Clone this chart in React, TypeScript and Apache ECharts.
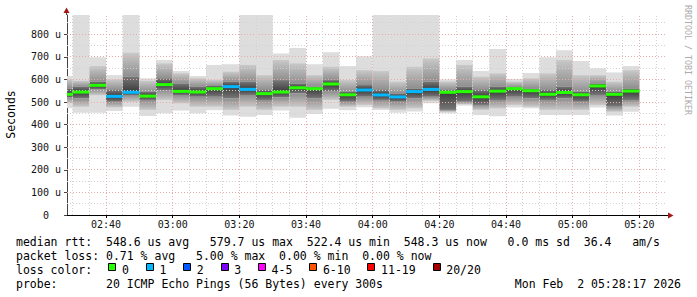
import React, { useEffect, useRef } from "react";
import * as echarts from "echarts";

// ---- data (times HH:MM, values in microseconds) ----
const axisStart = "02:28:17";
const axisEnd = "05:28:17";
const binEnds = [
  "02:30", "02:35", "02:40", "02:45", "02:50", "02:55", "03:00", "03:05", "03:10", "03:15",
  "03:20", "03:25", "03:30", "03:35", "03:40", "03:45", "03:50", "03:55", "04:00", "04:05",
  "04:10", "04:15", "04:20", "04:25", "04:30", "04:35", "04:40", "04:45", "04:50", "04:55",
  "05:00", "05:05", "05:10", "05:15", "05:20",
];
const pingMax = [615, 885, 698, 619, 885, 605, 686, 637, 615, 664, 667, 885, 885, 715, 739, 667, 720, 659, 703, 885, 885, 885, 885, 600, 686, 637, 734, 602, 628, 698, 729, 681, 649, 631, 659];
const smokeHigh = [600, 594, 659, 600, 718, 594, 671, 627, 605, 597, 634, 664, 619, 686, 671, 619, 656, 597, 641, 637, 590, 656, 693, 590, 664, 612, 627, 590, 605, 627, 686, 619, 619, 590, 641];
const coreHigh = [560, 568, 590, 553, 612, 546, 605, 582, 568, 571, 590, 590, 553, 597, 582, 568, 597, 546, 575, 553, 538, 560, 590, 553, 568, 553, 568, 565, 560, 553, 568, 546, 582, 546, 560];
const medianRtt = [534, 544, 574, 525, 543, 526, 577, 547, 544, 559, 568, 556, 537, 544, 563, 559, 579.7, 532, 553, 531, 522.4, 546, 556, 543, 546, 523, 548, 559, 550, 534, 542, 532, 571, 534, 548.3];
const coreLow = [520, 516, 556, 501, 531, 509, 553, 531, 523, 523, 516, 531, 509, 521, 538, 516, 546, 501, 523, 509, 501, 516, 523, 465, 501, 487, 509, 523, 516, 509, 516, 501, 531, 479, 509];
const smokeLow = [495, 479, 530, 476, 501, 465, 509, 494, 479, 479, 465, 479, 465, 479, 479, 465, 509, 479, 487, 472, 465, 472, 505, 457, 490, 465, 472, 487, 479, 465, 465, 465, 487, 457, 479];
const pingMin = [473, 453, 453, 460, 479, 438, 450, 462, 450, 464, 440, 435, 442, 462, 430, 447, 470, 464, 477, 465, 452, 458, 494, 450, 484, 442, 437, 476, 472, 442, 442, 442, 476, 440, 457];
const lostPings = [0, 0, 0, 1, 1, 0, 0, 0, 0, 0, 1, 1, 0, 0, 0, 0, 0, 0, 1, 1, 1, 1, 1, 0, 0, 0, 0, 0, 0, 0, 0, 0, 0, 0, 0];

const xTickLabels = ["02:40", "03:00", "03:20", "03:40", "04:00", "04:20", "04:40", "05:00", "05:20"];
const yTickValues = [0, 100, 200, 300, 400, 500, 600, 700, 800];
const yMax = 885;
const stepMinutes = 5;

const lossLabels = ["0", "1", "2", "3", "4-5", "6-10", "11-19", "20/20"];
const lossColors = ["#26ff00", "#00b8ff", "#0059ff", "#7e00ff", "#ff00ff", "#ff5500", "#ff0000", "#a10000"];

const legendLines = [
  "median rtt:  548.6 us avg   579.7 us max  522.4 us min  548.3 us now   0.0 ms sd  36.4   am/s",
  "packet loss: 0.71 % avg   5.00 % max  0.00 % min  0.00 % now",
  "loss color:",
  "probe:       20 ICMP Echo Pings (56 Bytes) every 300s",
];
const dateText = "Mon Feb  2 05:28:17 2026";
const watermark = "RRDTOOL / TOBI OETIKER";

const MONO = "'DejaVu Sans Mono', monospace";

const toMin = (s: string) => {
  const p = s.split(":").map(Number);
  return p[0] * 60 + p[1] + (p[2] || 0) / 60;
};
const fmtMin = (v: number) => {
  const r = Math.round(v);
  const h = Math.floor(r / 60);
  const m = r % 60;
  return String(h).padStart(2, "0") + ":" + String(m).padStart(2, "0");
};
const lossBucket = (n: number) =>
  n === 0 ? 0 : n === 1 ? 1 : n === 2 ? 2 : n === 3 ? 3 : n <= 5 ? 4 : n <= 10 ? 5 : n <= 19 ? 6 : 7;
const nb = (s: string) => s.replace(/ /g, "\u00a0");

const grad = (top: string, bottom: string) =>
  new echarts.graphic.LinearGradient(0, 0, 0, 1, [
    { offset: 0, color: top },
    { offset: 1, color: bottom },
  ]);

export default function App() {
  const ref = useRef<HTMLDivElement>(null);

  useEffect(() => {
    if (!ref.current) return;
    const chart = echarts.init(ref.current, null, { renderer: "svg" });
    const xMin = toMin(axisStart);
    const xMax = toMin(axisEnd);
    const xTickVals = xTickLabels.map(toMin);

    const smokeData = binEnds.map((t, i) => {
      const end = toMin(t);
      return [Math.max(end - stepMinutes, xMin), end, pingMax[i], smokeHigh[i], coreHigh[i], medianRtt[i], coreLow[i], smokeLow[i], pingMin[i]];
    });
    const medianData = binEnds.map((t, i) => {
      const end = toMin(t);
      return [Math.max(end - stepMinutes, xMin), end, medianRtt[i], lostPings[i]];
    });

    const vGrid: number[][] = [];
    for (let t = Math.ceil(xMin / stepMinutes) * stepMinutes; t < xMax; t += stepMinutes) vGrid.push([t, 0]);
    const hGrid: number[][] = [];
    for (let v = 50; v < yMax; v += 50) hGrid.push([xMin, v]);

    const snap = (p: number) => Math.round(p - 0.5) + 0.5;

    const graphics: any[] = [];
    graphics.push({ type: "line", shape: { x1: 66.5, y1: 15, x2: 66.5, y2: 11 }, style: { stroke: "#444", lineWidth: 1 } });
    graphics.push({ type: "polygon", shape: { points: [[63.5, 13], [69.5, 13], [66.5, 7.5]] }, style: { fill: "#a01818" } });
    graphics.push({ type: "line", shape: { x1: 667, y1: 215.5, x2: 669, y2: 215.5 }, style: { stroke: "#000", lineWidth: 1 } });
    graphics.push({ type: "polygon", shape: { points: [[668, 212.5], [668, 218.5], [673.5, 215.5]] }, style: { fill: "#a01818" } });
    graphics.push({
      type: "text", x: 11.3, y: 114.5, rotation: Math.PI / 2,
      style: { text: "Seconds", font: `11.5px ${MONO}`, fill: "#000", align: "center", verticalAlign: "middle", textAlign: "center", textVerticalAlign: "middle" },
    });
    graphics.push({
      type: "text", x: 687.5, y: 60, rotation: -Math.PI / 2,
      style: { text: nb(watermark), font: `8.3px ${MONO}`, fill: "#ababab", align: "center", verticalAlign: "middle", textAlign: "center", textVerticalAlign: "middle" },
    });
    const lineY = [241.5, 255.5, 269.5, 283.5];
    legendLines.forEach((s, i) => {
      graphics.push({
        type: "text", x: 16, y: lineY[i],
        style: { text: nb(s), font: `11.5px ${MONO}`, fill: "#000", align: "left", verticalAlign: "middle", textAlign: "left", textVerticalAlign: "middle" },
      });
    });
    graphics.push({
      type: "text", x: 681, y: lineY[3],
      style: { text: nb(dateText), font: `11.5px ${MONO}`, fill: "#000", align: "right", verticalAlign: "middle", textAlign: "right", textVerticalAlign: "middle" },
    });
    let sx = 108.3;
    const charW = 6.94;
    lossLabels.forEach((lab, i) => {
      graphics.push({
        type: "rect", shape: { x: Math.round(sx) + 0.5, y: 263.5, width: 7, height: 7 },
        style: { fill: lossColors[i], stroke: "#000", lineWidth: 1 },
      });
      graphics.push({
        type: "text", x: sx + 13.7, y: lineY[2],
        style: { text: lab, font: `11.5px ${MONO}`, fill: "#000", align: "left", verticalAlign: "middle", textAlign: "left", textVerticalAlign: "middle" },
      });
      sx += 13.7 + lab.length * charW + 16.76;
    });

    const option: any = {
      animation: false,
      backgroundColor: "#ffffff",
      textStyle: { fontFamily: MONO },
      grid: { left: 67, top: 15, width: 600, height: 200, containLabel: false },
      xAxis: {
        type: "value",
        min: xMin,
        max: xMax,
        axisLine: { show: true, onZero: false, lineStyle: { color: "#000", width: 1 } },
        axisTick: { show: true, customValues: xTickVals, length: 3, lineStyle: { color: "#000" } },
        axisLabel: {
          show: true, customValues: xTickVals, formatter: (v: number) => fmtMin(v),
          fontSize: 10, fontFamily: MONO, color: "#111", margin: 4,
        },
        splitLine: { show: false },
      },
      yAxis: {
        type: "value",
        min: 0,
        max: yMax,
        axisLine: { show: true, lineStyle: { color: "#444", width: 1 } },
        axisTick: { show: true, customValues: yTickValues, length: 3, lineStyle: { color: "#444" } },
        axisLabel: {
          show: true, customValues: yTickValues,
          formatter: (v: number) => (v === 0 ? "0\u00a0\u00a0" : `${v}\u00a0u`),
          fontSize: 10, fontFamily: MONO, color: "#111", margin: 6,
        },
        splitLine: { show: false },
      },
      series: [
        {
          type: "custom",
          name: "smoke",
          z: 1,
          silent: true,
          data: smokeData,
          encode: { x: [0, 1], y: [2, 8] },
          renderItem: (_p: any, api: any) => {
            const s = api.value(0);
            const e = api.value(1);
            const xa = api.coord([s, 0])[0];
            const xb = api.coord([e, 0])[0];
            const Y = (k: number) => api.coord([s, api.value(k)])[1];
            const w = xb - xa;
            const r = (k1: number, k2: number, fill: any) => {
              const yt = Y(k1);
              const yb = Y(k2);
              return { type: "rect", shape: { x: xa, y: yt, width: w, height: Math.max(0, yb - yt) }, style: { fill } };
            };
            return {
              type: "group",
              children: [
                r(2, 8, "#dddddd"),
                r(3, 4, grad("#c9c9c9", "#8e8e8e")),
                r(4, 5, grad("#777777", "#3a3a3a")),
                r(5, 6, grad("#3a3a3a", "#777777")),
                r(6, 7, grad("#8e8e8e", "#c9c9c9")),
              ],
            };
          },
        },
        {
          type: "custom",
          name: "hgrid",
          z: 2,
          silent: true,
          data: hGrid,
          encode: { x: 0, y: 1 },
          renderItem: (_p: any, api: any) => {
            const v = api.value(1);
            const a = api.coord([xMin, v]);
            const b = api.coord([xMax, v]);
            const y = snap(a[1]);
            return {
              type: "line",
              shape: { x1: a[0], y1: y, x2: b[0], y2: y },
              style: { stroke: v % 100 === 0 ? "#e7adad" : "#d2d2d2", lineWidth: 1, lineDash: [1, 2] },
            };
          },
        },
        {
          type: "custom",
          name: "vgrid",
          z: 2,
          silent: true,
          data: vGrid,
          encode: { x: 0, y: 1 },
          renderItem: (_p: any, api: any) => {
            const t = api.value(0);
            const a = api.coord([t, 0]);
            const b = api.coord([t, yMax]);
            const x = snap(a[0]);
            return {
              type: "line",
              shape: { x1: x, y1: a[1], x2: x, y2: b[1] },
              style: { stroke: Math.round(t) % 20 === 0 ? "#e7adad" : "#d2d2d2", lineWidth: 1, lineDash: [1, 2] },
            };
          },
        },
        {
          type: "custom",
          name: "median",
          z: 3,
          silent: true,
          data: medianData,
          encode: { x: [0, 1], y: 2 },
          renderItem: (_p: any, api: any) => {
            const s = api.value(0);
            const e = api.value(1);
            const a = api.coord([s, api.value(2)]);
            const xb = api.coord([e, 0])[0];
            return {
              type: "rect",
              shape: { x: a[0], y: a[1] - 1.5, width: xb - a[0], height: 3 },
              style: { fill: lossColors[lossBucket(api.value(3))] },
            };
          },
        },
      ],
      graphic: graphics,
    };

    chart.setOption(option);
    return () => chart.dispose();
  }, []);

  return <div ref={ref} style={{ position: "absolute", left: 0, top: 0, width: 697, height: 297 }} />;
}
